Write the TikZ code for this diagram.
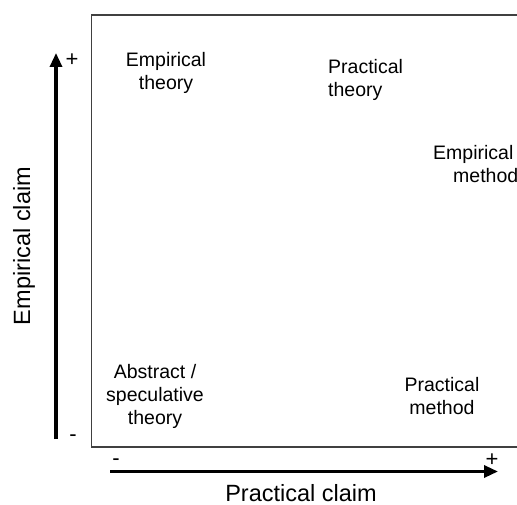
\documentclass[tikz,border=0pt]{standalone}
\usepackage{fontspec}
\setmainfont{Liberation Sans}
\usepackage{xcolor}
\usetikzlibrary{arrows.meta,positioning}
\definecolor{ink}{HTML}{000000}
\definecolor{framegray}{HTML}{404040}

\begin{document}
\begin{tikzpicture}[
  x=1bp, y=-1bp,
  font=\fontsize{19.5bp}{23bp}\selectfont,
  frameline/.style={draw=framegray, line width=1.3bp},
  axis/.style={-{Triangle[length=14bp,width=12bp]}, draw=ink, line width=3.2bp},
  label/.style={align=center, inner sep=0pt},
  axislabel/.style={inner sep=0pt, font=\fontsize{23.5bp}{27bp}\selectfont},
  sign/.style={inner sep=0pt, font=\fontsize{22bp}{26bp}\selectfont}
]
\useasboundingbox (0,0) rectangle (517,505);
\clip (0,0) rectangle (517,505);

% plot frame
\draw[frameline] (540,15) -- (91.5,15) -- (91.5,447) -- (540,447);

% axes
\coordinate (ylo) at (56,439);
\coordinate (yhi) at (56,53);
\coordinate (xlo) at (110,471.5);
\coordinate (xhi) at (498,471.5);
\draw[axis] (ylo) -- (yhi);
\draw[axis] (xlo) -- (xhi);
\node[sign] (yplus) at (72,60) {+};
\node[sign] (yminus) at (73,438) {-};
\node[sign] (xminus) at (116,462) {-};
\node[sign] (xplus) at (492,460) {+};
\node[axislabel, rotate=90] (ylab) at (24,246) {Empirical claim};
\node[axislabel] (xlab) at (301,493) {Practical claim};

% quadrant labels
\node[label] (emptheory) at (166,73) {Empirical\\theory};
\node[label, align=left, anchor=west] (practheory) at (328,80) {Practical\\theory};
\node[label, align=left, anchor=west] (empmethod) at (433,164) {Empirical\\\hspace*{20bp}method};
\node[label] (abstheory) at (155,396) {Abstract /\\speculative\\theory};
\node[label] (pracmethod) at (442,396) {Practical\\method};

\end{tikzpicture}
\end{document}
